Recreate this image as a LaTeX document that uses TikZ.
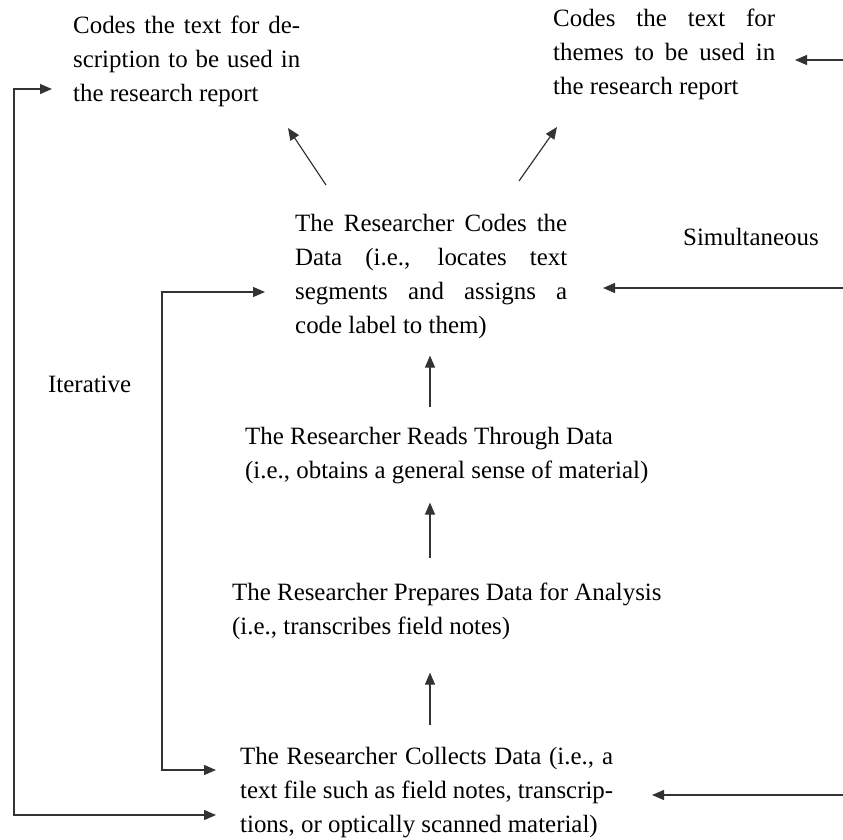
\documentclass[tikz,border=0pt]{standalone}
\usepackage{fontspec}
\setmainfont{Liberation Serif}
\usetikzlibrary{arrows.meta}

\tikzset{
  txt/.style={anchor=north west, inner sep=0pt, align=left,
              font=\fontsize{24.9}{34}\selectfont},
  lbl/.style={anchor=base west, inner sep=0pt,
              font=\fontsize{24.9}{34}\selectfont},
  arr/.style={draw=black!80, line width=1.2pt,
              -{Triangle[length=12pt,width=10pt]}},
  twoarr/.style={draw=black!80, line width=1.2pt,
              {Triangle[length=12pt,width=10pt]}-{Triangle[length=12pt,width=10pt]}},
}
\newcommand{\jline}[2]{\makebox[#1][s]{#2}}

\begin{document}
\begin{tikzpicture}[x=1pt,y=-1pt]
  \useasboundingbox (0,0) rectangle (843,840);

  % the two coded outputs
  \node[txt] (desc) at (73,9.2)
       {\strut\jline{227pt}{Codes the text for de-}\\
        \jline{227pt}{scription to be used in}\\
        the research report\strut};
  \node[txt] (themes) at (553,2.2)
       {\strut\jline{222pt}{Codes the text for}\\
        \jline{222pt}{themes to be used in}\\
        the research report\strut};

  % the steps, bottom to top
  \node[txt] (codes) at (295,207.2)
       {\strut\jline{272pt}{The Researcher Codes the}\\
        \jline{272pt}{Data (i.e., locates text}\\
        \jline{272pt}{segments and assigns a}\\
        code label to them)\strut};
  \node[txt] (read) at (245,420.2)
       {\strut The Researcher Reads Through Data\\
        (i.e., obtains a general sense of material)\strut};
  \node[txt] (prep) at (232,576.2)
       {\strut The Researcher Prepares Data for Analysis\\
        (i.e., transcribes field notes)\strut};
  \node[txt] (collect) at (240,740.2)
       {\strut\jline{373pt}{The Researcher Collects Data (i.e., a}\\
        \jline{373pt}{text file such as field notes, transcrip-}\\
        tions, or optically scanned material)\strut};

  \node[lbl] (simul) at (683,245) {Simultaneous};
  \node[lbl] (iter) at (48,392) {Iterative};

  % arrow ends
  \coordinate (spine) at (430,0);
  \coordinate (descTip) at (288,128);
  \coordinate (descTail) at (326,185);
  \coordinate (themesTip) at (557,127);
  \coordinate (themesTail) at (519,181);
  \coordinate (outerTop) at (52,89);
  \coordinate (outerBot) at (216,815);
  \coordinate (innerTop) at (265,292);
  \coordinate (innerBot) at (216,770);
  \coordinate (rightA) at (843,60);
  \coordinate (rightB) at (843,288);
  \coordinate (rightC) at (843,795);
  \coordinate (tipA) at (795,60);
  \coordinate (tipB) at (603,288);
  \coordinate (tipC) at (652,795);

  % upward flow
  \draw[arr, shorten <=13pt, shorten >=12pt] (read.north -| spine) -- (codes.south -| spine);
  \draw[arr, shorten <=18pt, shorten >=14pt] (prep.north -| spine) -- (read.south -| spine);
  \draw[arr, shorten <=15pt, shorten >=28pt] (collect.north -| spine) -- (prep.south -| spine);
  \draw[arr] (descTail) -- (descTip);
  \draw[arr] (themesTail) -- (themesTip);

  % iterative loops
  \draw[twoarr] (outerTop) -| (14,815) -- (outerBot);
  \draw[twoarr] (innerTop) -| (162,770) -- (innerBot);

  % simultaneous inputs
  \draw[arr] (rightA) -- (tipA);
  \draw[arr] (rightB) -- (tipB);
  \draw[arr] (rightC) -- (tipC);
\end{tikzpicture}
\end{document}
